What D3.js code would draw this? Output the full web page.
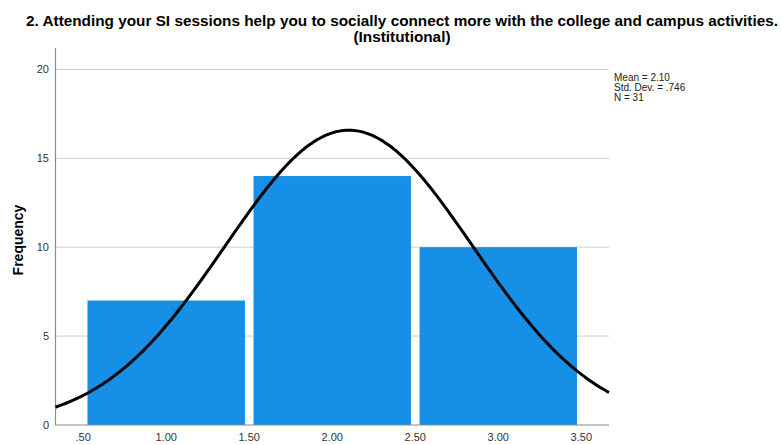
<!DOCTYPE html>
<html lang="en">
<head>
<meta charset="UTF-8">
<title>Histogram</title>
<script src="https://d3js.org/d3.v7.min.js"></script>
<style>
  body { margin: 0; background: #fff; }
  text { font-family: "Liberation Sans", Arial, sans-serif; }
</style>
</head>
<body>
<script>
// bins (lower/upper edges) and frequencies
var binStart = [0.5, 1.5, 2.5];
var binEnd = [1.5, 2.5, 3.5];
var counts = [7, 14, 10];
var xTicks = [0.5, 1.0, 1.5, 2.0, 2.5, 3.0, 3.5];
var xTickLabels = [".50", "1.00", "1.50", "2.00", "2.50", "3.00", "3.50"];
var yTicks = [0, 5, 10, 15, 20];
// stats printed on the chart
var mean = 2.10, sd = 0.746, n = 31;
var statLines = ["Mean = 2.10", "Std. Dev. = .746", "N = 31"];

var W = 782, H = 445;
var svg = d3.select("body").append("svg")
    .attr("width", W).attr("height", H);

var x = d3.scaleLinear().domain([1 / 3, 11 / 3]).range([55.5, 609]);
var y = d3.scaleLinear().domain([0, 21.2]).range([425, 48]);

// gridlines
svg.append("g").selectAll("line")
    .data(yTicks.filter(d => d > 0))
    .enter().append("line")
    .attr("x1", x.range()[0]).attr("x2", x.range()[1])
    .attr("y1", d => y(d)).attr("y2", d => y(d))
    .attr("stroke", "#cdcdcd").attr("stroke-width", 1);

// bars
var bins = counts.map((c, i) => ({ a: binStart[i], b: binEnd[i], c: c }));
svg.append("g").selectAll("rect")
    .data(bins)
    .enter().append("rect")
    .attr("x", d => x(d.a) + 4.3)
    .attr("width", d => x(d.b) - x(d.a) - 8.6)
    .attr("y", d => y(d.c))
    .attr("height", d => y(0) - y(d.c))
    .attr("fill", "#1590e6");

// axes lines
svg.append("line")
    .attr("x1", x.range()[0]).attr("x2", x.range()[0])
    .attr("y1", y.range()[1]).attr("y2", y(0))
    .attr("stroke", "#8c8c8c").attr("stroke-width", 1.2);
svg.append("line")
    .attr("x1", x.range()[0]).attr("x2", x.range()[1])
    .attr("y1", y(0)).attr("y2", y(0))
    .attr("stroke", "#8c8c8c").attr("stroke-width", 1.2);

// normal curve from the printed mean / sd / N (bin width 1)
var xs = d3.range(0, 201).map(i => x.domain()[0] + i * (x.domain()[1] - x.domain()[0]) / 200);
var curve = xs.map(v => [v, n / (sd * Math.sqrt(2 * Math.PI)) * Math.exp(-0.5 * Math.pow((v - mean) / sd, 2))]);
svg.append("path")
    .datum(curve)
    .attr("d", d3.line().x(d => x(d[0])).y(d => y(d[1])).curve(d3.curveBasis))
    .attr("fill", "none")
    .attr("stroke", "#000")
    .attr("stroke-width", 3);

// tick labels
svg.append("g").selectAll("text")
    .data(yTicks)
    .enter().append("text")
    .attr("x", 49).attr("y", d => y(d) + 4)
    .attr("text-anchor", "end")
    .attr("font-size", 11).attr("fill", "#333")
    .text(d => d);

svg.append("g").selectAll("text")
    .data(xTicks)
    .enter().append("text")
    .attr("x", d => x(d)).attr("y", 441)
    .attr("text-anchor", "middle")
    .attr("font-size", 11).attr("fill", "#333")
    .text((d, i) => xTickLabels[i]);

// y axis title
svg.append("text")
    .attr("transform", "translate(23,240) rotate(-90)")
    .attr("text-anchor", "middle")
    .attr("font-size", 14).attr("font-weight", "bold")
    .text("Frequency");

// chart title
svg.append("text")
    .attr("x", 402).attr("y", 25.5)
    .attr("text-anchor", "middle")
    .attr("font-size", 15).attr("font-weight", "bold")
    .attr("textLength", 752).attr("lengthAdjust", "spacingAndGlyphs")
    .text("2. Attending your SI sessions help you to socially connect more with the college and campus activities.");
svg.append("text")
    .attr("x", 402).attr("y", 42)
    .attr("text-anchor", "middle")
    .attr("font-size", 15).attr("font-weight", "bold")
    .attr("textLength", 97).attr("lengthAdjust", "spacingAndGlyphs")
    .text("(Institutional)");

// stats box
svg.append("g").selectAll("text")
    .data(statLines)
    .enter().append("text")
    .attr("x", 614).attr("y", (d, i) => 81 + i * 10)
    .attr("font-size", 10).attr("fill", "#222")
    .text(d => d);
</script>
</body>
</html>
